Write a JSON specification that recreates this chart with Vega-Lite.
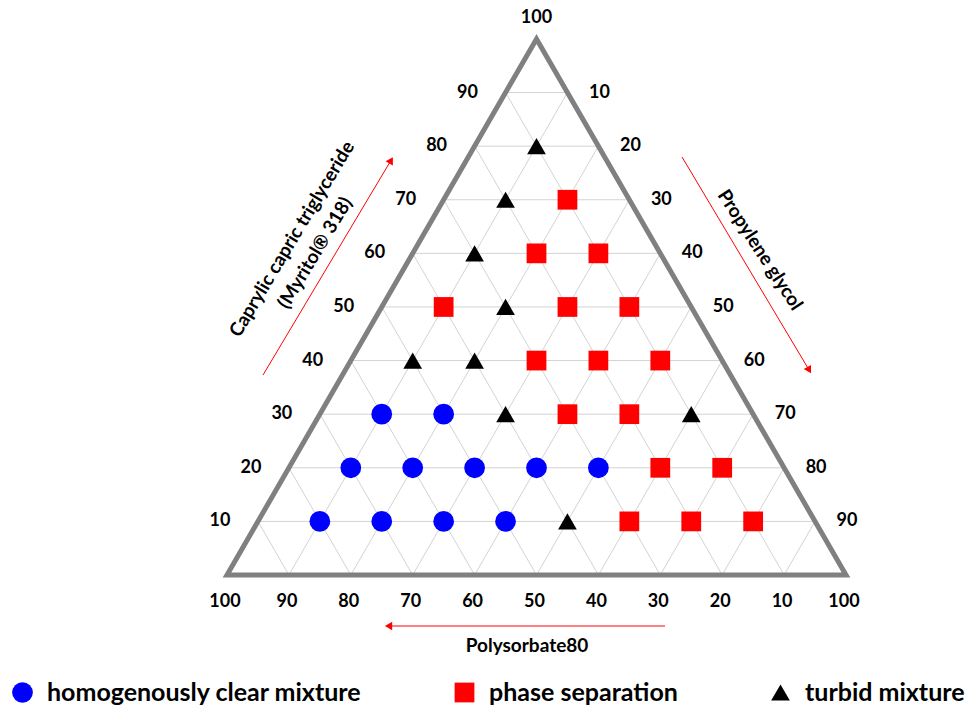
{
  "$schema": "https://vega.github.io/schema/vega-lite/v6.json",
  "width": 978,
  "height": 715,
  "padding": 0,
  "autosize": {"type": "none"},
  "background": "white",
  "config": {"view": {"stroke": null}, "font": "Lato"},
  "datasets": {
    "points": [
      {"m": 10, "pg": 10, "ps": 80, "result": "homogenously clear mixture"},
      {"m": 10, "pg": 20, "ps": 70, "result": "homogenously clear mixture"},
      {"m": 10, "pg": 30, "ps": 60, "result": "homogenously clear mixture"},
      {"m": 10, "pg": 40, "ps": 50, "result": "homogenously clear mixture"},
      {"m": 10, "pg": 50, "ps": 40, "result": "turbid mixture"},
      {"m": 10, "pg": 60, "ps": 30, "result": "phase separation"},
      {"m": 10, "pg": 70, "ps": 20, "result": "phase separation"},
      {"m": 10, "pg": 80, "ps": 10, "result": "phase separation"},
      {"m": 20, "pg": 10, "ps": 70, "result": "homogenously clear mixture"},
      {"m": 20, "pg": 20, "ps": 60, "result": "homogenously clear mixture"},
      {"m": 20, "pg": 30, "ps": 50, "result": "homogenously clear mixture"},
      {"m": 20, "pg": 40, "ps": 40, "result": "homogenously clear mixture"},
      {"m": 20, "pg": 50, "ps": 30, "result": "homogenously clear mixture"},
      {"m": 20, "pg": 60, "ps": 20, "result": "phase separation"},
      {"m": 20, "pg": 70, "ps": 10, "result": "phase separation"},
      {"m": 30, "pg": 10, "ps": 60, "result": "homogenously clear mixture"},
      {"m": 30, "pg": 20, "ps": 50, "result": "homogenously clear mixture"},
      {"m": 30, "pg": 30, "ps": 40, "result": "turbid mixture"},
      {"m": 30, "pg": 40, "ps": 30, "result": "phase separation"},
      {"m": 30, "pg": 50, "ps": 20, "result": "phase separation"},
      {"m": 30, "pg": 60, "ps": 10, "result": "turbid mixture"},
      {"m": 40, "pg": 10, "ps": 50, "result": "turbid mixture"},
      {"m": 40, "pg": 20, "ps": 40, "result": "turbid mixture"},
      {"m": 40, "pg": 30, "ps": 30, "result": "phase separation"},
      {"m": 40, "pg": 40, "ps": 20, "result": "phase separation"},
      {"m": 40, "pg": 50, "ps": 10, "result": "phase separation"},
      {"m": 50, "pg": 10, "ps": 40, "result": "phase separation"},
      {"m": 50, "pg": 20, "ps": 30, "result": "turbid mixture"},
      {"m": 50, "pg": 30, "ps": 20, "result": "phase separation"},
      {"m": 50, "pg": 40, "ps": 10, "result": "phase separation"},
      {"m": 60, "pg": 10, "ps": 30, "result": "turbid mixture"},
      {"m": 60, "pg": 20, "ps": 20, "result": "phase separation"},
      {"m": 60, "pg": 30, "ps": 10, "result": "phase separation"},
      {"m": 70, "pg": 10, "ps": 20, "result": "turbid mixture"},
      {"m": 70, "pg": 20, "ps": 10, "result": "phase separation"},
      {"m": 80, "pg": 10, "ps": 10, "result": "turbid mixture"}
    ],
    "grid": [
      {"m1": 10, "pg1": 0, "m2": 10, "pg2": 90},
      {"m1": 20, "pg1": 0, "m2": 20, "pg2": 80},
      {"m1": 30, "pg1": 0, "m2": 30, "pg2": 70},
      {"m1": 40, "pg1": 0, "m2": 40, "pg2": 60},
      {"m1": 50, "pg1": 0, "m2": 50, "pg2": 50},
      {"m1": 60, "pg1": 0, "m2": 60, "pg2": 40},
      {"m1": 70, "pg1": 0, "m2": 70, "pg2": 30},
      {"m1": 80, "pg1": 0, "m2": 80, "pg2": 20},
      {"m1": 90, "pg1": 0, "m2": 90, "pg2": 10},
      {"m1": 0, "pg1": 10, "m2": 90, "pg2": 10},
      {"m1": 0, "pg1": 20, "m2": 80, "pg2": 20},
      {"m1": 0, "pg1": 30, "m2": 70, "pg2": 30},
      {"m1": 0, "pg1": 40, "m2": 60, "pg2": 40},
      {"m1": 0, "pg1": 50, "m2": 50, "pg2": 50},
      {"m1": 0, "pg1": 60, "m2": 40, "pg2": 60},
      {"m1": 0, "pg1": 70, "m2": 30, "pg2": 70},
      {"m1": 0, "pg1": 80, "m2": 20, "pg2": 80},
      {"m1": 0, "pg1": 90, "m2": 10, "pg2": 90},
      {"m1": 0, "pg1": 90, "m2": 90, "pg2": 0},
      {"m1": 0, "pg1": 80, "m2": 80, "pg2": 0},
      {"m1": 0, "pg1": 70, "m2": 70, "pg2": 0},
      {"m1": 0, "pg1": 60, "m2": 60, "pg2": 0},
      {"m1": 0, "pg1": 50, "m2": 50, "pg2": 0},
      {"m1": 0, "pg1": 40, "m2": 40, "pg2": 0},
      {"m1": 0, "pg1": 30, "m2": 30, "pg2": 0},
      {"m1": 0, "pg1": 20, "m2": 20, "pg2": 0},
      {"m1": 0, "pg1": 10, "m2": 10, "pg2": 0}
    ],
    "frame": [
      {"i": 0, "m": 0, "pg": 0},
      {"i": 1, "m": 0, "pg": 100},
      {"i": 2, "m": 100, "pg": 0},
      {"i": 3, "m": 0, "pg": 0},
      {"i": 4, "m": 0, "pg": 100}
    ],
    "ticks": [
      {"side": "left", "m": 10, "pg": 0, "label": "10"},
      {"side": "left", "m": 20, "pg": 0, "label": "20"},
      {"side": "left", "m": 30, "pg": 0, "label": "30"},
      {"side": "left", "m": 40, "pg": 0, "label": "40"},
      {"side": "left", "m": 50, "pg": 0, "label": "50"},
      {"side": "left", "m": 60, "pg": 0, "label": "60"},
      {"side": "left", "m": 70, "pg": 0, "label": "70"},
      {"side": "left", "m": 80, "pg": 0, "label": "80"},
      {"side": "left", "m": 90, "pg": 0, "label": "90"},
      {"side": "top", "m": 100, "pg": 0, "label": "100"},
      {"side": "right", "m": 90, "pg": 10, "label": "10"},
      {"side": "right", "m": 80, "pg": 20, "label": "20"},
      {"side": "right", "m": 70, "pg": 30, "label": "30"},
      {"side": "right", "m": 60, "pg": 40, "label": "40"},
      {"side": "right", "m": 50, "pg": 50, "label": "50"},
      {"side": "right", "m": 40, "pg": 60, "label": "60"},
      {"side": "right", "m": 30, "pg": 70, "label": "70"},
      {"side": "right", "m": 20, "pg": 80, "label": "80"},
      {"side": "right", "m": 10, "pg": 90, "label": "90"},
      {"side": "bottom", "m": 0, "pg": 0, "label": "100"},
      {"side": "bottom", "m": 0, "pg": 10, "label": "90"},
      {"side": "bottom", "m": 0, "pg": 20, "label": "80"},
      {"side": "bottom", "m": 0, "pg": 30, "label": "70"},
      {"side": "bottom", "m": 0, "pg": 40, "label": "60"},
      {"side": "bottom", "m": 0, "pg": 50, "label": "50"},
      {"side": "bottom", "m": 0, "pg": 60, "label": "40"},
      {"side": "bottom", "m": 0, "pg": 70, "label": "30"},
      {"side": "bottom", "m": 0, "pg": 80, "label": "20"},
      {"side": "bottom", "m": 0, "pg": 90, "label": "10"},
      {"side": "bottom", "m": 0, "pg": 100, "label": "100"}
    ]
  },
  "layer": [
    {
      "data": {"name": "grid"},
      "transform": [
        {"calculate": "datum.pg1 + datum.m1 / 2", "as": "gx1"},
        {"calculate": "datum.m1 * 0.8660254", "as": "gy1"},
        {"calculate": "datum.pg2 + datum.m2 / 2", "as": "gx2"},
        {"calculate": "datum.m2 * 0.8660254", "as": "gy2"}
      ],
      "mark": {"type": "rule", "color": "#d3d3d3", "strokeWidth": 1},
      "encoding": {
        "x": {"field": "gx1", "type": "quantitative", "scale": {"domain": [-36.672, 121.325], "nice": false, "zero": false}, "axis": null},
        "y": {"field": "gy1", "type": "quantitative", "scale": {"domain": [-22.617, 92.892], "nice": false, "zero": false}, "axis": null},
        "x2": {"field": "gx2"},
        "y2": {"field": "gy2"}
      }
    },
    {
      "data": {"name": "frame"},
      "transform": [
        {"calculate": "datum.pg + datum.m / 2", "as": "fx"},
        {"calculate": "datum.m * 0.8660254", "as": "fy"}
      ],
      "mark": {"type": "line", "color": "#808080", "strokeWidth": 5, "strokeJoin": "miter", "strokeCap": "butt"},
      "encoding": {
        "x": {"field": "fx", "type": "quantitative", "scale": {"domain": [-36.672, 121.325], "nice": false, "zero": false}, "axis": null},
        "y": {"field": "fy", "type": "quantitative", "scale": {"domain": [-22.617, 92.892], "nice": false, "zero": false}, "axis": null},
        "order": {"field": "i", "type": "quantitative"}
      }
    },
    {
      "data": {"name": "points"},
      "transform": [
        {"calculate": "datum.pg + datum.m / 2", "as": "px"},
        {"calculate": "datum.m * 0.8660254", "as": "py"}
      ],
      "mark": {"type": "point", "filled": true, "opacity": 1, "strokeWidth": 0},
      "encoding": {
        "x": {"field": "px", "type": "quantitative", "scale": {"domain": [-36.672, 121.325], "nice": false, "zero": false}, "axis": null},
        "y": {"field": "py", "type": "quantitative", "scale": {"domain": [-22.617, 92.892], "nice": false, "zero": false}, "axis": null},
        "color": {
          "field": "result", "type": "nominal",
          "scale": {"domain": ["homogenously clear mixture", "phase separation", "turbid mixture"], "range": ["#0000ff", "#ff0000", "#000000"]},
          "legend": {
            "orient": "none", "legendX": 10, "legendY": 680, "direction": "horizontal", "columns": 3,
            "title": null, "labelFontSize": 25, "labelFont": "Lato", "labelFontWeight": "bold", "labelColor": "#000000",
            "columnPadding": 90, "labelOffset": 12, "symbolStrokeWidth": 0, "labelLimit": 0, "gridAlign": "none", "padding": 0
          }
        },
        "shape": {
          "field": "result", "type": "nominal",
          "scale": {"domain": ["homogenously clear mixture", "phase separation", "turbid mixture"], "range": ["circle", "square", "triangle-up"]}
        },
        "size": {
          "field": "result", "type": "nominal",
          "scale": {"domain": ["homogenously clear mixture", "phase separation", "turbid mixture"], "range": [430, 350, 520]}
        }
      }
    },
    {
      "data": {"name": "ticks"},
      "transform": [
        {"filter": "datum.side === 'left'"},
        {"calculate": "datum.pg + datum.m / 2", "as": "tx"},
        {"calculate": "datum.m * 0.8660254", "as": "ty"}
      ],
      "mark": {"type": "text", "font": "Lato", "fontWeight": "bold", "fontSize": 18, "color": "#000000", "align": "center", "baseline": "middle", "dx": -38},
      "encoding": {
        "x": {"field": "tx", "type": "quantitative", "scale": {"domain": [-36.672, 121.325], "nice": false, "zero": false}, "axis": null},
        "y": {"field": "ty", "type": "quantitative", "scale": {"domain": [-22.617, 92.892], "nice": false, "zero": false}, "axis": null},
        "text": {"field": "label"}
      }
    },
    {
      "data": {"name": "ticks"},
      "transform": [
        {"filter": "datum.side === 'right'"},
        {"calculate": "datum.pg + datum.m / 2", "as": "tx"},
        {"calculate": "datum.m * 0.8660254", "as": "ty"}
      ],
      "mark": {"type": "text", "font": "Lato", "fontWeight": "bold", "fontSize": 18, "color": "#000000", "align": "center", "baseline": "middle", "dx": 32},
      "encoding": {
        "x": {"field": "tx", "type": "quantitative", "scale": {"domain": [-36.672, 121.325], "nice": false, "zero": false}, "axis": null},
        "y": {"field": "ty", "type": "quantitative", "scale": {"domain": [-22.617, 92.892], "nice": false, "zero": false}, "axis": null},
        "text": {"field": "label"}
      }
    },
    {
      "data": {"name": "ticks"},
      "transform": [
        {"filter": "datum.side === 'bottom'"},
        {"calculate": "datum.pg + datum.m / 2", "as": "tx"},
        {"calculate": "datum.m * 0.8660254", "as": "ty"}
      ],
      "mark": {"type": "text", "font": "Lato", "fontWeight": "bold", "fontSize": 18, "color": "#000000", "align": "center", "baseline": "middle", "dx": -2, "dy": 27},
      "encoding": {
        "x": {"field": "tx", "type": "quantitative", "scale": {"domain": [-36.672, 121.325], "nice": false, "zero": false}, "axis": null},
        "y": {"field": "ty", "type": "quantitative", "scale": {"domain": [-22.617, 92.892], "nice": false, "zero": false}, "axis": null},
        "text": {"field": "label"}
      }
    },
    {
      "data": {"name": "ticks"},
      "transform": [
        {"filter": "datum.side === 'top'"},
        {"calculate": "datum.pg + datum.m / 2", "as": "tx"},
        {"calculate": "datum.m * 0.8660254", "as": "ty"}
      ],
      "mark": {"type": "text", "font": "Lato", "fontWeight": "bold", "fontSize": 18, "color": "#000000", "align": "center", "baseline": "middle", "dy": -21},
      "encoding": {
        "x": {"field": "tx", "type": "quantitative", "scale": {"domain": [-36.672, 121.325], "nice": false, "zero": false}, "axis": null},
        "y": {"field": "ty", "type": "quantitative", "scale": {"domain": [-22.617, 92.892], "nice": false, "zero": false}, "axis": null},
        "text": {"field": "label"}
      }
    },
    {
      "data": {"values": [{}]},
      "mark": {"type": "text", "font": "Lato", "fontWeight": "bold", "fontSize": 19, "color": "#000000", "align": "center", "baseline": "middle", "angle": -59, "lineBreak": "\n", "lineHeight": 27},
      "encoding": {
        "x": {"datum": 10.5, "type": "quantitative", "scale": {"domain": [-36.672, 121.325], "nice": false, "zero": false}, "axis": null},
        "y": {"datum": 54.28, "type": "quantitative", "scale": {"domain": [-22.617, 92.892], "nice": false, "zero": false}, "axis": null},
        "text": {"value": "Caprylic capric triglyceride\n(Myritol® 318)"}
      }
    },
    {
      "data": {"values": [{}]},
      "mark": {"type": "text", "font": "Lato", "fontWeight": "bold", "fontSize": 19, "color": "#000000", "align": "center", "baseline": "middle", "angle": 57},
      "encoding": {
        "x": {"datum": 86.11, "type": "quantitative", "scale": {"domain": [-36.672, 121.325], "nice": false, "zero": false}, "axis": null},
        "y": {"datum": 52.5, "type": "quantitative", "scale": {"domain": [-22.617, 92.892], "nice": false, "zero": false}, "axis": null},
        "text": {"value": "Propylene glycol"}
      }
    },
    {
      "data": {"values": [{}]},
      "mark": {"type": "text", "font": "Lato", "fontWeight": "bold", "fontSize": 19, "color": "#000000", "align": "center", "baseline": "middle"},
      "encoding": {
        "x": {"datum": 48.47, "type": "quantitative", "scale": {"domain": [-36.672, 121.325], "nice": false, "zero": false}, "axis": null},
        "y": {"datum": -11.5, "type": "quantitative", "scale": {"domain": [-22.617, 92.892], "nice": false, "zero": false}, "axis": null},
        "text": {"value": "Polysorbate80"}
      }
    },
    {
      "data": {"values": [{}]},
      "mark": {"type": "rule", "color": "#ff0000", "strokeWidth": 1},
      "encoding": {
        "x": {"datum": 5.82, "type": "quantitative", "scale": {"domain": [-36.672, 121.325], "nice": false, "zero": false}, "axis": null},
        "y": {"datum": 32.31, "type": "quantitative", "scale": {"domain": [-22.617, 92.892], "nice": false, "zero": false}, "axis": null},
        "x2": {"datum": 26.5},
        "y2": {"datum": 67.0}
      }
    },
    {
      "data": {"values": [{}]},
      "mark": {"type": "point", "shape": "triangle-up", "filled": true, "opacity": 1, "color": "#ff0000", "size": 70, "angle": 30, "strokeWidth": 0},
      "encoding": {
        "x": {"datum": 26.5, "type": "quantitative", "scale": {"domain": [-36.672, 121.325], "nice": false, "zero": false}, "axis": null},
        "y": {"datum": 67.0, "type": "quantitative", "scale": {"domain": [-22.617, 92.892], "nice": false, "zero": false}, "axis": null}
      }
    },
    {
      "data": {"values": [{}]},
      "mark": {"type": "rule", "color": "#ff0000", "strokeWidth": 1},
      "encoding": {
        "x": {"datum": 73.51, "type": "quantitative", "scale": {"domain": [-36.672, 121.325], "nice": false, "zero": false}, "axis": null},
        "y": {"datum": 67.53, "type": "quantitative", "scale": {"domain": [-22.617, 92.892], "nice": false, "zero": false}, "axis": null},
        "x2": {"datum": 94.05},
        "y2": {"datum": 33.1}
      }
    },
    {
      "data": {"values": [{}]},
      "mark": {"type": "point", "shape": "triangle-up", "filled": true, "opacity": 1, "color": "#ff0000", "size": 70, "angle": 150, "strokeWidth": 0},
      "encoding": {
        "x": {"datum": 94.05, "type": "quantitative", "scale": {"domain": [-36.672, 121.325], "nice": false, "zero": false}, "axis": null},
        "y": {"datum": 33.1, "type": "quantitative", "scale": {"domain": [-22.617, 92.892], "nice": false, "zero": false}, "axis": null}
      }
    },
    {
      "data": {"values": [{}]},
      "mark": {"type": "rule", "color": "#ff0000", "strokeWidth": 1},
      "encoding": {
        "x": {"datum": 70.76, "type": "quantitative", "scale": {"domain": [-36.672, 121.325], "nice": false, "zero": false}, "axis": null},
        "y": {"datum": -8.24, "type": "quantitative", "scale": {"domain": [-22.617, 92.892], "nice": false, "zero": false}, "axis": null},
        "x2": {"datum": 26.1},
        "y2": {"datum": -8.24}
      }
    },
    {
      "data": {"values": [{}]},
      "mark": {"type": "point", "shape": "triangle-up", "filled": true, "opacity": 1, "color": "#ff0000", "size": 70, "angle": 270, "strokeWidth": 0},
      "encoding": {
        "x": {"datum": 26.1, "type": "quantitative", "scale": {"domain": [-36.672, 121.325], "nice": false, "zero": false}, "axis": null},
        "y": {"datum": -8.24, "type": "quantitative", "scale": {"domain": [-22.617, 92.892], "nice": false, "zero": false}, "axis": null}
      }
    }
  ]
}
